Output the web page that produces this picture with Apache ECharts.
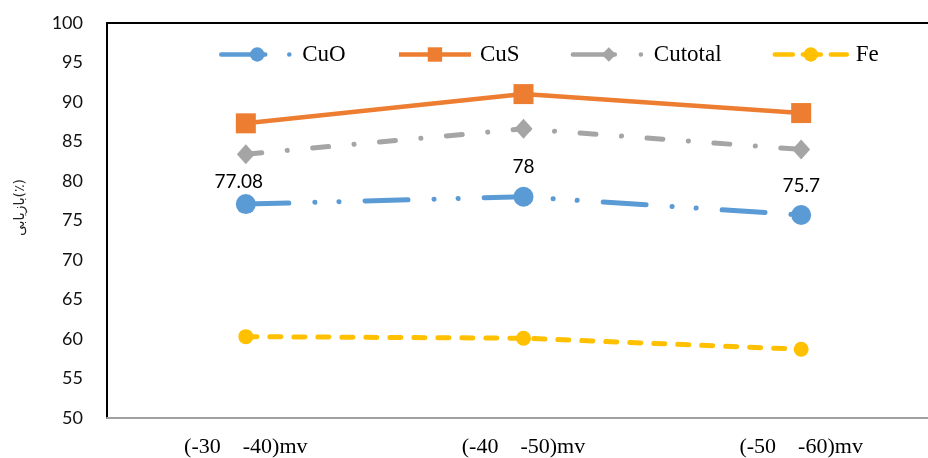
<!DOCTYPE html>
<html>
<head>
<meta charset="utf-8">
<script src="https://cdn.jsdelivr.net/npm/echarts@6/dist/echarts.min.js"></script>
<style>
  html, body { margin: 0; padding: 0; background: #fff; }
  #chart { width: 928px; height: 458px; }
</style>
</head>
<body>
<div id="chart"></div>
<script>
// Potential ranges on the x axis
const categories = ['(-30    -40)mv', '(-40    -50)mv', '(-50    -60)mv'];

// Recovery (%) per series
const cuO = [77.08, 78, 75.7];
const cuS = [87.3, 91.0, 88.6];
const cuTotal = [83.4, 86.6, 84.0];
const fe = [60.3, 60.1, 58.7];

const seriesNames = ['CuO', 'CuS', 'Cutotal', 'Fe'];
const yTicks = { min: 50, max: 100, step: 5 };
const yAxisTitle = 'بازیابی(٪)';

const chart = echarts.init(document.getElementById('chart'), null, { renderer: 'canvas' });

// line looks shared by the plot and the legend
const styles = {
  CuO: { color: '#5B9BD5', width: 5, type: [43, 26, 0.1, 24, 0.1, 26], cap: 'round' },
  CuS: { color: '#ED7D31', width: 4.5, type: 'solid', cap: 'butt' },
  Cutotal: { color: '#A5A5A5', width: 5, type: [16, 25.5, 0.1, 25.5], cap: 'round' },
  Fe: { color: '#FFC000', width: 5, type: [11, 13], cap: 'round' }
};
const legendDash = {
  CuO: [44, 24, 0.1, 20],
  CuS: 'solid',
  Cutotal: [42, 26, 0.1, 10],
  Fe: [18, 10]
};

// value labels on the CuO line, slightly different spacing per point
const cuOLabelDistance = [3, 10, 10];
const cuOLabelShift = [[-7, 0], [0, 0], [0, 0]];
const cuOData = cuO.map((v, i) => ({
  value: v,
  label: { distance: cuOLabelDistance[i], offset: cuOLabelShift[i] }
}));

const option = {
  animation: false,
  backgroundColor: '#ffffff',
  grid: { left: 107, top: 23, width: 833, height: 395, containLabel: false, outerBoundsMode: 'none' },
  legend: {
    data: seriesNames.map(n => ({
      name: n,
      lineStyle: { width: 4.5, type: legendDash[n], cap: styles[n].cap }
    })),
    left: 214,
    top: 38,
    itemWidth: 72,
    itemHeight: 18,
    itemGap: 51,
    textStyle: { fontFamily: 'Liberation Serif', fontSize: 23, color: '#000', padding: [0, 0, 0, 4] }
  },
  xAxis: [
    {
      type: 'category',
      data: categories,
      boundaryGap: true,
      axisLine: { lineStyle: { color: '#a0a0a0', width: 2 } },
      axisTick: { show: false },
      axisLabel: { fontFamily: 'Liberation Serif', fontSize: 22, color: '#000', margin: 18 },
      splitLine: { show: false }
    },
    {
      type: 'category',
      data: categories,
      position: 'top',
      axisLine: { lineStyle: { color: '#000', width: 2 } },
      axisTick: { show: false },
      axisLabel: { show: false },
      splitLine: { show: false }
    }
  ],
  yAxis: {
    type: 'value',
    min: yTicks.min,
    max: yTicks.max,
    interval: yTicks.step,
    name: yAxisTitle,
    nameLocation: 'middle',
    nameRotate: 90,
    nameGap: 80,
    nameTextStyle: { fontFamily: 'DejaVu Sans', fontSize: 14, color: '#222', padding: [0, 0, 0, 26] },
    axisLine: { show: true, lineStyle: { color: '#000', width: 2 } },
    axisTick: { show: false },
    splitLine: { show: false },
    axisLabel: { fontFamily: 'Lato', fontSize: 18, color: '#111', margin: 24 }
  },
  series: [
    {
      name: 'CuO',
      type: 'line',
      data: cuOData,
      symbol: 'circle',
      symbolSize: 20,
      itemStyle: { color: styles.CuO.color },
      lineStyle: styles.CuO,
      label: {
        show: true,
        position: 'top',
        fontFamily: 'Lato',
        fontSize: 19,
        color: '#000'
      },
      z: 4
    },
    {
      name: 'CuS',
      type: 'line',
      data: cuS,
      symbol: 'rect',
      symbolSize: 20,
      itemStyle: { color: styles.CuS.color },
      lineStyle: styles.CuS,
      z: 3
    },
    {
      name: 'Cutotal',
      type: 'line',
      data: cuTotal,
      symbol: 'diamond',
      symbolSize: [18, 20],
      itemStyle: { color: styles.Cutotal.color },
      lineStyle: styles.Cutotal,
      z: 2
    },
    {
      name: 'Fe',
      type: 'line',
      data: fe,
      symbol: 'circle',
      symbolSize: 15,
      itemStyle: { color: styles.Fe.color },
      lineStyle: styles.Fe,
      z: 1
    }
  ]
};

chart.setOption(option);
</script>
</body>
</html>
